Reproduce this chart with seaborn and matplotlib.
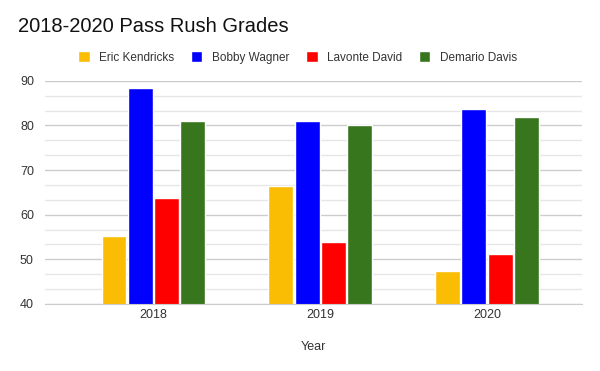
import matplotlib
matplotlib.use("Agg")
import matplotlib.pyplot as plt
import seaborn as sns
import pandas as pd
import numpy as np

# data
years = ["2018", "2019", "2020"]
players = ["Eric Kendricks", "Bobby Wagner", "Lavonte David", "Demario Davis"]
kendricks = [55.2, 66.5, 47.3]
wagner = [88.4, 81.0, 83.7]
david = [63.8, 53.8, 51.2]
davis = [81.0, 80.1, 81.9]
colors = ["#fbbc04", "#0000ff", "#ff0000", "#38761d"]

grades = [kendricks, wagner, david, davis]
rows = []
for name, vals in zip(players, grades):
    for yr, v in zip(years, vals):
        rows.append({"Year": yr, "Player": name, "Grade": v})
df = pd.DataFrame(rows)

sns.set_style("white")
plt.rcParams["font.family"] = ["Liberation Sans", "DejaVu Sans"]

fig = plt.figure(figsize=(6, 3.71), dpi=100)
ax = fig.add_axes([0.075, 0.181, 0.895, 0.601])

sns.barplot(data=df, x="Year", y="Grade", hue="Player", hue_order=players,
            palette=colors, width=0.63, gap=0.05, saturation=1, ax=ax)

ax.set_ylim(40, 90)
ax.set_xlim(-0.65, 2.57)
ax.set_yticks([40, 50, 60, 70, 80, 90])
ax.set_yticks(np.arange(40, 90, 10 / 3), minor=True)
ax.grid(axis="y", which="major", color="#cccccc", linewidth=1)
ax.grid(axis="y", which="minor", color="#e6e6e6", linewidth=1)
ax.set_axisbelow(True)
for s in ["top", "right", "left"]:
    ax.spines[s].set_visible(False)
ax.spines["bottom"].set_color("#cccccc")
ax.tick_params(axis="both", which="both", length=0, labelsize=9, colors="#333333")
ax.tick_params(axis="y", pad=8)
ax.tick_params(axis="x", pad=4)
ax.set_ylabel("")
ax.set_xlabel("Year", fontsize=9, color="#333333", labelpad=14)

sns.move_legend(ax, "lower center", bbox_to_anchor=(0.47, 1.03), ncol=4,
                frameon=False, title=None, fontsize=8.5, handlelength=1.0,
                handleheight=1.0, columnspacing=1.4, handletextpad=0.8,
                labelcolor="#333333")

fig.text(0.03, 0.915, "2018-2020 Pass Rush Grades", fontsize=14.5, color="#111111")

fig.savefig("out.png", dpi=100, facecolor="white")
